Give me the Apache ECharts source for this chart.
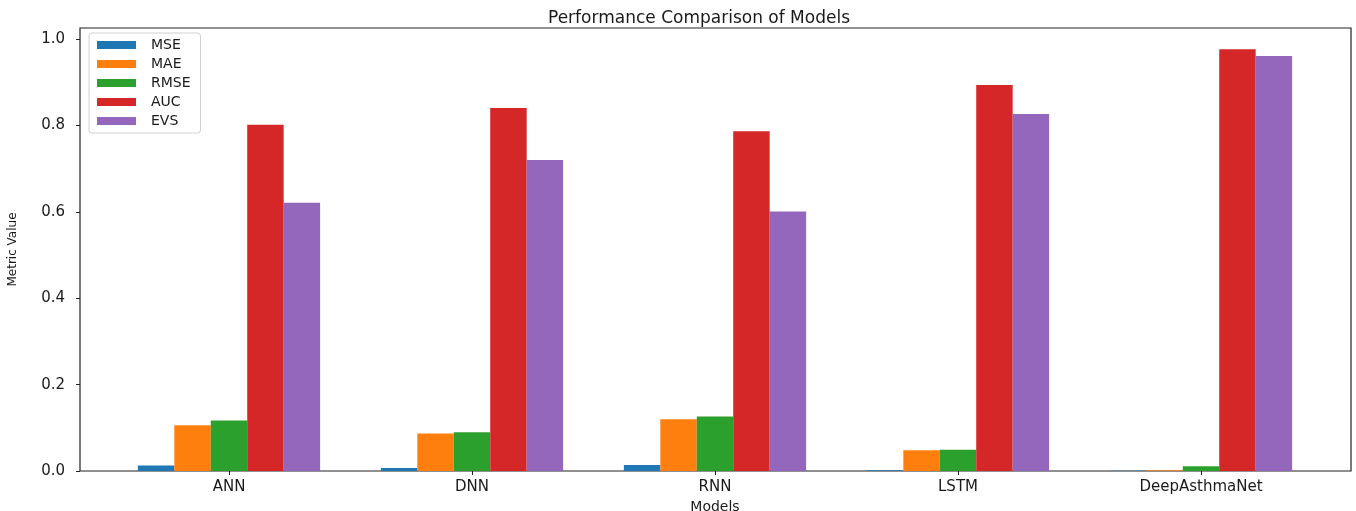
<!DOCTYPE html>
<html>
<head>
<meta charset="utf-8">
<script src="https://cdn.jsdelivr.net/npm/echarts@6/dist/echarts.min.js"></script>
<style>
  html, body { margin: 0; padding: 0; background: #fff; }
  #chart { width: 1356px; height: 511px; }
</style>
</head>
<body>
<div id="chart"></div>
<script>
// Models compared and the metric scores for each
const models = ['ANN', 'DNN', 'RNN', 'LSTM', 'DeepAsthmaNet'];
const metricNames = ['MSE', 'MAE', 'RMSE', 'AUC', 'EVS'];
const mse  = [0.013, 0.007, 0.014, 0.002, 0.0005];
const mae  = [0.106, 0.087, 0.120, 0.048, 0.002];
const rmse = [0.117, 0.090, 0.126, 0.049, 0.011];
const auc  = [0.802, 0.841, 0.787, 0.894, 0.977];
const evs  = [0.621, 0.720, 0.601, 0.827, 0.961];
const yTicks = [0, 0.2, 0.4, 0.6, 0.8, 1.0];

const metricValues = [mse, mae, rmse, auc, evs];
const palette = ['#1f77b4', '#ff7f0e', '#2ca02c', '#d62728', '#9467bd'];
const yMax = 1.026;
const font = 'DejaVu Sans';
const ink = '#1a1a1a';

const chart = echarts.init(document.getElementById('chart'), null, { renderer: 'canvas' });

chart.setOption({
  animation: false,
  backgroundColor: '#fff',
  color: palette,
  title: {
    text: 'Performance Comparison of Models',
    left: 694, top: 5, textAlign: 'center',
    textStyle: { fontFamily: font, fontSize: 17, fontWeight: 'normal', color: ink }
  },
  legend: {
    orient: 'vertical',
    left: 89, top: 33,
    data: metricNames,
    icon: 'rect',
    itemWidth: 39, itemHeight: 8, itemGap: 5,
    padding: [5, 10, 5, 8],
    backgroundColor: '#fff',
    borderColor: '#d0d0d0', borderWidth: 1, borderRadius: 3,
    textStyle: { fontFamily: font, fontSize: 14, color: ink, padding: [0, 0, 0, 10] }
  },
  grid: [
    // outer frame with the value scale
    { left: 80, top: 28, width: 1271, height: 443, show: true,
      borderColor: '#222', borderWidth: 1.2, backgroundColor: '#fff',
      containLabel: false, outerBoundsMode: 'none' },
    // band area for the grouped bars
    { left: 107.5, top: 28, width: 1215, height: 443,
      containLabel: false, outerBoundsMode: 'none' }
  ],
  xAxis: [
    { type: 'value', gridIndex: 0, show: false, min: 0, max: 1 },
    {
      type: 'category', gridIndex: 1, data: models,
      name: 'Models', nameLocation: 'middle', nameGap: 25,
      nameTextStyle: { fontFamily: font, fontSize: 14, color: ink },
      axisLine: { show: false },
      axisTick: { show: true, alignWithLabel: true, length: 4, lineStyle: { color: '#222' } },
      axisLabel: { fontFamily: font, fontSize: 15, color: ink, margin: 9 },
      splitLine: { show: false }
    }
  ],
  yAxis: [
    {
      type: 'value', gridIndex: 0, min: 0, max: yMax,
      name: 'Metric Value', nameLocation: 'middle', nameGap: 61, nameRotate: 90,
      nameTextStyle: { fontFamily: font, fontSize: 12, color: ink },
      axisLine: { show: false },
      axisTick: { show: true, length: 4, customValues: yTicks, lineStyle: { color: '#222' } },
      axisLabel: {
        fontFamily: font, fontSize: 15, color: ink, margin: 15,
        customValues: yTicks,
        formatter: v => v.toFixed(1)
      },
      splitLine: { show: false }
    },
    { type: 'value', gridIndex: 1, min: 0, max: yMax, show: false }
  ],
  series: metricNames.map((name, k) => ({
    name: name,
    type: 'bar',
    xAxisIndex: 1, yAxisIndex: 1,
    data: metricValues[k],
    barWidth: '15%',
    barGap: '0%',
    itemStyle: { color: palette[k] }
  }))
});
</script>
</body>
</html>
